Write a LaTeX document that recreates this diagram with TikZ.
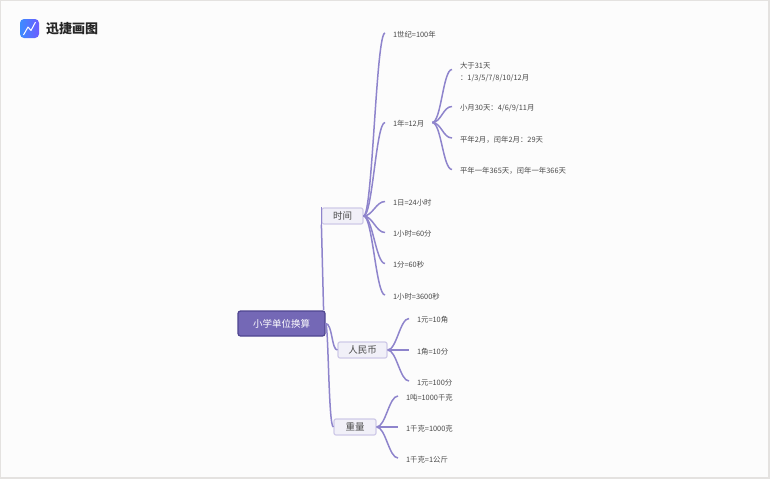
\documentclass[tikz,border=0pt]{standalone}
\usepackage{fontspec}
\setmainfont{Noto Sans CJK SC}
\usetikzlibrary{
  positioning,
  calc
}
\definecolor{rootfill}{HTML}{7468B6}
\definecolor{rootline}{HTML}{4F4590}
\definecolor{subfill}{HTML}{F1F0F8}
\definecolor{subline}{HTML}{CFCAE8}
\definecolor{branchline}{HTML}{8E84CC}
\definecolor{leaftext}{HTML}{4A4A4A}
\definecolor{logoleft}{HTML}{3C8CFF}
\definecolor{logoright}{HTML}{6C5CFF}
\definecolor{pageframe}{HTML}{E4E2E0}

\begin{document}
\begin{tikzpicture}[
  x=1pt, y=-1pt,
  root/.style={draw=rootline, line width=1.2pt, rounded corners=2.5pt, fill=rootfill, text=white, minimum width=87pt, minimum height=25pt, inner sep=0pt, font=\fontsize{9.5}{10}\selectfont},
  topic/.style={draw=subline, line width=1.2pt, rounded corners=2pt, fill=subfill, text=leaftext, minimum height=16pt, inner sep=0pt, font=\fontsize{9.5}{10}\selectfont},
  leaf/.style={anchor=west, inner sep=0pt, outer xsep=8pt, text=leaftext, align=left, text height=8.5pt, text depth=0pt, font=\fontsize{7.4}{12}\selectfont},
  branch/.style={draw=branchline, line width=1.5pt, to path={.. controls +(9,0) and +(-9,0) .. (\tikztotarget)}},
  stem/.style={draw=branchline, line width=1.5pt}
]
  \useasboundingbox (0,0) rectangle (770,479);
  \fill[pageframe] (0,0) rectangle (770,479);
  \fill[white!99!black] (1,1) rectangle (768,477);

  % Logo
  \node[inner sep=0pt, left color=logoleft, right color=logoright, rounded corners=4pt, minimum size=19pt] (logo) at (29.5,28.5) {};
  \draw[white, line width=1pt, line join=round] (23.5,35) -- (28,27) -- (31,30.5) -- (35.5,22);
  \node[anchor=west, inner sep=0pt, font=\fontsize{13}{14}\selectfont\bfseries, text=black!85] (brand) at (46,29) {迅捷画图};

  % Root
  \node[root] (unitconv) at (281.5,323.5) {小学单位换算};

  % Topics
  \node[topic, minimum width=41pt] (timeunit) at (342.5,216) {时间};
  \node[topic, minimum width=49pt] (money) at (362.5,350) {人民币};
  \node[topic, minimum width=42pt] (weight) at (355,427) {重量};

  % Time leaves
  \node[leaf] (century) at (385,33) {1世纪=100年};
  \node[leaf] (year) at (385,122.5) {1年=12月};
  \node[leaf] (day) at (385,201.5) {1日=24小时};
  \node[leaf] (hour) at (385,232.5) {1小时=60分};
  \node[leaf] (minute) at (385,263.5) {1分=60秒};
  \node[leaf] (second) at (385,295) {1小时=3600秒};

  % Month leaves
  \node[leaf, text height=24pt, text depth=2pt] (bigmonth) at (452,69.5) {大于31天\\：1/3/5/7/8/10/12月};
  \node[leaf] (smallmonth) at (452,106.5) {小月30天：4/6/9/11月};
  \node[leaf] (february) at (452,138) {平年2月，闰年2月：29天};
  \node[leaf] (yeardays) at (452,169.5) {平年一年365天，闰年一年366天};

  % Money leaves
  \node[leaf] (yuanjiao) at (409,318.5) {1元=10角};
  \node[leaf] (jiaofen) at (409,350) {1角=10分};
  \node[leaf] (yuanfen) at (409,381) {1元=100分};

  % Weight leaves
  \node[leaf] (ton) at (398,396) {1吨=1000千克};
  \node[leaf] (kilo) at (398,427) {1千克=1000克};
  \node[leaf] (jin) at (398,458) {1千克=1公斤};

  % Connectors
  \draw[stem] (unitconv.north east) ++(-2,0) -- (timeunit.south west);
  \draw[stem] (timeunit.south west) -- (timeunit.north west);
  \draw[stem] (unitconv.east) .. controls +(7,0) and +(-6,0) .. (money.west);
  \draw[stem] (unitconv.east) .. controls +(3,0) and +(-5,0) .. (weight.west);

  \draw[branch] (timeunit.east) to (century.west);
  \draw[branch] (timeunit.east) to (year.west);
  \draw[branch] (timeunit.east) to (day.west);
  \draw[branch] (timeunit.east) to (hour.west);
  \draw[branch] (timeunit.east) to (minute.west);
  \draw[branch] (timeunit.east) to (second.west);

  \draw[branch] (year.east) to (bigmonth.west);
  \draw[branch] (year.east) to (smallmonth.west);
  \draw[branch] (year.east) to (february.west);
  \draw[branch] (year.east) to (yeardays.west);

  \draw[branch] (money.east) to (yuanjiao.west);
  \draw[branch] (money.east) to (jiaofen.west);
  \draw[branch] (money.east) to (yuanfen.west);

  \draw[branch] (weight.east) to (ton.west);
  \draw[branch] (weight.east) to (kilo.west);
  \draw[branch] (weight.east) to (jin.west);
\end{tikzpicture}
\end{document}
